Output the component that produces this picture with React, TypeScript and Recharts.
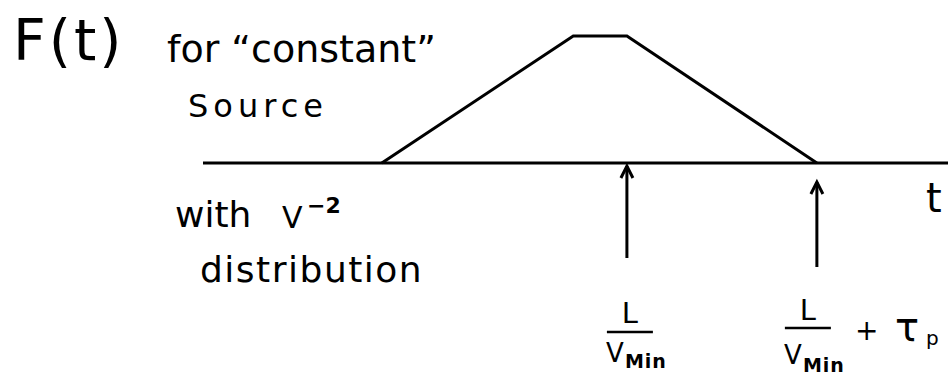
import { LineChart, Line, XAxis, YAxis, Customized } from "recharts";

// trapezoidal arrival profile F(t)
const times = [24, 49.7, 56.9, 82.4];
const flux = [0, 1, 1, 0];

// marked instants on the t axis: L/Vmin and L/Vmin + tau_p
const markTimes = [56.9, 82.4];
const markSuffix = ["", "+"];

const data = times.map((t, i) => ({ t, f: flux[i] }));

const FONT = "'DejaVu Sans', sans-serif";

// per-mark placement of arrow and fraction label (offsets from the axis line)
const markLayout = [
  { arrowTop: 3, arrowBottom: 95, dx: 3, lY: 160, barY: 169, vY: 199, minY: 205 },
  { arrowTop: 19, arrowBottom: 104, dx: -9, lY: 157, barY: 165, vY: 201, minY: 209 },
];

const MarkTick = (props: any) => {
  const { x, y, index } = props;
  const lay = markLayout[index] ?? markLayout[0];
  const cx = x + lay.dx;
  return (
    <g>
      {/* upward arrow */}
      <line x1={x} y1={y + lay.arrowTop} x2={x} y2={y + lay.arrowBottom} stroke="#000" strokeWidth={3} />
      <polyline
        points={`${x - 6},${y + lay.arrowTop + 12} ${x},${y + lay.arrowTop} ${x + 6},${y + lay.arrowTop + 12}`}
        fill="none"
        stroke="#000"
        strokeWidth={3}
      />
      {/* L / V_Min */}
      <text x={cx} y={y + lay.lY} textAnchor="middle" fontFamily={FONT} fontSize={29} fill="#000">
        L
      </text>
      <line x1={cx - 23} y1={y + lay.barY} x2={cx + 23} y2={y + lay.barY} stroke="#000" strokeWidth={2.5} />
      <text x={cx - 24} y={y + lay.vY} fontFamily={FONT} fontSize={26} fill="#000">
        V
      </text>
      <text x={cx - 5} y={y + lay.minY} fontFamily={FONT} fontSize={19} fontWeight="bold" fill="#000" letterSpacing={1}>
        Min
      </text>
      {markSuffix[index] === "+" && (
        <g>
          <text x={cx + 47} y={y + 177} fontFamily={FONT} fontSize={28} fill="#000">
            +
          </text>
          <text x={cx + 87} y={y + 178} fontFamily={FONT} fontSize={40} fill="#000">
            τ
          </text>
          <text x={cx + 118} y={y + 182} fontFamily={FONT} fontSize={20} fill="#000">
            p
          </text>
        </g>
      )}
    </g>
  );
};

const Notes = () => (
  <g fill="#000" fontFamily={FONT}>
    <text x={13} y={60} fontSize={57} letterSpacing={3}>
      F(t)
    </text>
    <text x={167} y={62} fontSize={38}>
      for “constant”
    </text>
    <text x={188} y={117} fontSize={32} letterSpacing={5}>
      Source
    </text>
    <text x={175} y={227} fontSize={36}>
      with
    </text>
    <text x={282} y={228} fontSize={30}>
      V
    </text>
    <text x={307} y={213} fontSize={22} fontWeight="bold">
      −2
    </text>
    <text x={200} y={282} fontSize={36} letterSpacing={1.5}>
      distribution
    </text>
    <text x={926} y={212} fontSize={40}>
      t
    </text>
  </g>
);

export default function App() {
  return (
    <div style={{ position: "absolute", left: 0, top: 0, width: 948, height: 380, background: "#fff" }}>
      <LineChart width={948} height={380} data={data} margin={{ top: 36, right: 0, left: 203, bottom: 0 }}>
        <XAxis
          dataKey="t"
          type="number"
          domain={[0, 100]}
          ticks={markTimes}
          interval={0}
          height={217}
          axisLine={{ stroke: "#000", strokeWidth: 3 }}
          tickLine={false}
          tickSize={0}
          tickMargin={0}
          tick={<MarkTick />}
        />
        <YAxis hide width={0} domain={[0, 1]} />
        <Line
          type="linear"
          dataKey="f"
          stroke="#000"
          strokeWidth={3}
          dot={false}
          isAnimationActive={false}
        />
        <Customized component={Notes} />
      </LineChart>
    </div>
  );
}
